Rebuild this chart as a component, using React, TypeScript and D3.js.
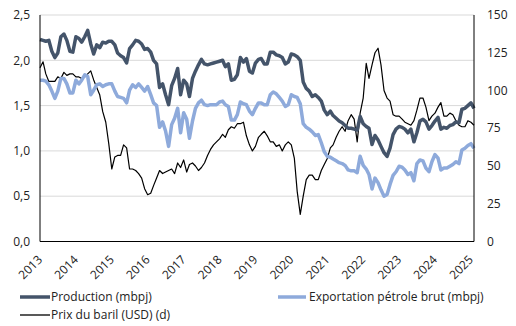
import * as d3 from 'd3'

const W = 516,
      H = 326,
      margin = { top: 15, right: 42, bottom: 84.5, left: 40 },
      innerW = W - margin.left - margin.right,
      innerH = H - margin.top - margin.bottom

// monthly, Jan 2013 -> Feb 2025
const months = d3.timeMonth.range(new Date(2013, 0, 1), new Date(2025, 2, 1))

// production, million barrels per day
const production = [
  2.23, 2.22, 2.21, 2.22, 2.10, 2.03, 2.08, 2.26, 2.29, 2.22, 2.10, 2.09,
  2.26, 2.24, 2.20, 2.26, 2.33, 2.18, 2.07, 2.17, 2.14, 2.20, 2.19, 2.21,
  2.21, 2.17, 2.08, 2.05, 2.03, 1.97, 2.13, 2.17, 2.22, 2.21, 2.18, 2.12,
  2.13, 2.09, 2.00, 1.96, 1.70, 1.74, 1.62, 1.51, 1.72, 1.80, 1.91, 1.62,
  1.78, 1.74, 1.60, 1.80, 1.88, 1.95, 2.01, 1.96, 1.95, 1.96, 1.97, 1.98,
  1.99, 2.00, 1.93, 1.96, 1.78, 1.79, 1.84, 2.03, 1.98, 2.02, 1.88, 1.86,
  1.97, 2.01, 2.02, 1.96, 1.96, 2.09, 2.09, 2.06, 2.05, 2.03, 1.96, 1.98,
  2.07, 2.06, 2.04, 2.00, 1.76, 1.69, 1.66, 1.60, 1.62, 1.59, 1.55, 1.45,
  1.40, 1.44, 1.39, 1.36, 1.33, 1.31, 1.28, 1.25, 1.25, 1.24, 1.23, 1.38,
  1.30, 1.27, 1.25, 1.07, 1.17, 1.12, 1.05, 0.98, 0.94, 1.03, 1.18, 1.24,
  1.27, 1.26, 1.24, 1.20, 1.24, 1.10, 1.20, 1.33, 1.35, 1.32, 1.24, 1.28,
  1.33, 1.37, 1.24, 1.26, 1.25, 1.28, 1.29, 1.32, 1.31, 1.46, 1.47, 1.50,
  1.53, 1.47
]

// crude exports, million barrels per day
const exports = [
  1.78, 1.78, 1.77, 1.73, 1.66, 1.58, 1.66, 1.80, 1.80, 1.74, 1.64, 1.64,
  1.78, 1.74, 1.78, 1.84, 1.82, 1.62, 1.67, 1.73, 1.74, 1.71, 1.73, 1.74,
  1.74, 1.66, 1.60, 1.59, 1.58, 1.53, 1.67, 1.73, 1.70, 1.74, 1.70, 1.66,
  1.71, 1.62, 1.53, 1.50, 1.26, 1.32, 1.22, 1.05, 1.29, 1.36, 1.47, 1.20,
  1.42, 1.35, 1.14, 1.33, 1.47, 1.53, 1.56, 1.51, 1.50, 1.51, 1.51, 1.51,
  1.54, 1.55, 1.51, 1.49, 1.34, 1.34, 1.40, 1.54, 1.52, 1.51, 1.44, 1.40,
  1.47, 1.53, 1.53, 1.51, 1.51, 1.62, 1.65, 1.63, 1.59, 1.55, 1.49, 1.51,
  1.62, 1.60, 1.59, 1.52, 1.30, 1.26, 1.24, 1.21, 1.17, 1.18, 1.09, 0.99,
  0.94, 0.93, 0.91, 0.89, 0.87, 0.86, 0.84, 0.79, 0.78, 0.78, 0.76, 0.94,
  0.84, 0.80, 0.74, 0.58, 0.70, 0.65, 0.57, 0.50, 0.52, 0.63, 0.73, 0.77,
  0.83, 0.82, 0.79, 0.74, 0.76, 0.67, 0.86, 0.90, 0.89, 0.81, 0.77, 0.88,
  0.96, 0.92, 0.79, 0.81, 0.81, 0.83, 0.85, 0.88, 0.86, 1.01, 1.03, 1.06,
  1.08, 1.03
]

// barrel price, USD (right axis)
const price = [
  115, 119, 111, 106, 106, 106, 109, 108, 112, 110, 111, 111,
  109, 109, 108, 109, 111, 113, 107, 102, 97, 86, 79, 65,
  48, 56, 57, 57, 64, 62, 48, 48, 47, 45, 42, 35,
  31, 32, 37, 42, 47, 45, 46, 47, 48, 45, 52, 49,
  54, 46, 51, 52, 50, 47, 49, 52, 57, 61, 64, 66,
  68, 71, 69, 74, 76, 75, 78, 78, 79, 70, 64, 60,
  63, 69, 71, 73, 70, 66, 66, 63, 64, 60, 64, 66,
  64, 55, 33, 18, 30, 41, 44, 44, 41, 41, 47, 51,
  55, 62, 64, 69, 73, 76, 73, 80, 84, 81, 66, 85,
  95, 118, 108, 117, 125, 128, 117, 100, 95, 93, 84, 83,
  83, 81, 79, 78, 77, 80, 87, 95, 95, 89, 80, 83,
  85, 89, 92, 83, 83, 85, 84, 80, 77, 76, 76, 80,
  79, 77
]

const leftTicks = [0, 0.5, 1, 1.5, 2, 2.5]
const rightTicks = [0, 25, 50, 75, 100, 125, 150]
const years = d3.range(2013, 2026)

const darkBlue = '#44546a',
      lightBlue = '#8eaadb',
      font = '"Open Sans", sans-serif'

const x = d3.scaleTime()
  .domain([new Date(2013, 0, 1), new Date(2025, 1, 1)])
  .range([0, innerW])

const yLeft = d3.scaleLinear().domain([0, 2.5]).range([innerH, 0])
const yRight = d3.scaleLinear().domain([0, 150]).range([innerH, 0])

const lineLeft = d3.line<number>()
  .x((d, i) => x(months[i]))
  .y(d => yLeft(d))

const lineRight = d3.line<number>()
  .x((d, i) => x(months[i]))
  .y(d => yRight(d))

const fmt = (v: number) => d3.format('.1f')(v).replace('.', ',')

export default function App() {
  return (
    <svg width={W} height={H} style={{ position: 'absolute', left: 0, top: 0, background: '#fff' }}
         fontFamily={font} fontSize={12} fill='#222'>
      <g transform={`translate(${margin.left}, ${margin.top})`}>

        {/* gridlines */}
        {leftTicks.filter(t => t > 0).map(t =>
          <line key={t} x1={0} x2={innerW} y1={yLeft(t)} y2={yLeft(t)} stroke='#d9d9d9' strokeWidth={1} />
        )}

        <path d={lineRight(price) ?? ''} fill='none' stroke='#000' strokeWidth={1.2} strokeLinejoin='round' />
        <path d={lineLeft(exports) ?? ''} fill='none' stroke={lightBlue} strokeWidth={3.5} strokeLinejoin='round' />
        <path d={lineLeft(production) ?? ''} fill='none' stroke={darkBlue} strokeWidth={3.5} strokeLinejoin='round' />

        {/* axes */}
        <line x1={0} x2={0} y1={0} y2={innerH} stroke='#000' strokeWidth={1} />
        <line x1={innerW} x2={innerW} y1={0} y2={innerH} stroke='#000' strokeWidth={1} />
        <line x1={0} x2={innerW} y1={innerH} y2={innerH} stroke='#000' strokeWidth={1} />

        {leftTicks.map(t =>
          <text key={t} x={-10} y={yLeft(t)} dy='0.35em' textAnchor='end'>{fmt(t)}</text>
        )}

        {rightTicks.map(t =>
          <text key={t} x={innerW + 13} y={yRight(t)} dy='0.35em' textAnchor='start'>{t}</text>
        )}

        {years.map(yr => {
          const tx = x(new Date(yr, 0, 1)) + 3,
                ty = innerH + 19
          return (
            <text key={yr} x={tx} y={ty} textAnchor='end' transform={`rotate(-45, ${tx}, ${ty})`}>{yr}</text>
          )
        })}
      </g>

      {/* legend */}
      <g>
        <line x1={20} x2={50} y1={297} y2={297} stroke={darkBlue} strokeWidth={3.5} />
        <text x={51} y={297} dy='0.35em'>Production (mbpj)</text>

        <line x1={278} x2={306} y1={297} y2={297} stroke={lightBlue} strokeWidth={3.5} />
        <text x={309} y={297} dy='0.35em'>Exportation pétrole brut (mbpj)</text>

        <line x1={20} x2={50} y1={315} y2={315} stroke='#222' strokeWidth={1.5} />
        <text x={51} y={315} dy='0.35em'>Prix du baril (USD) (d)</text>
      </g>
    </svg>
  )
}
